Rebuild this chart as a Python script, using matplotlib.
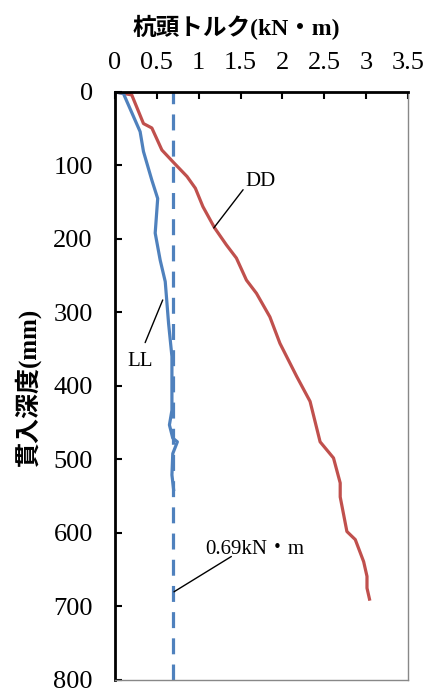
import matplotlib.pyplot as plt

# data
dd_torque = [0, 0.2, 0.34, 0.44, 0.56, 0.70, 0.86, 0.96, 1.05, 1.19, 1.33, 1.45, 1.57, 1.69, 1.85, 1.97,
             2.17, 2.33, 2.45, 2.61, 2.69, 2.69, 2.77, 2.87, 2.97, 3.01, 3.01, 3.04]
dd_depth = [0, 4, 43, 49, 79, 96, 115, 131, 156, 185, 208, 226, 256, 274, 306, 342,
            387, 421, 476, 498, 532, 551, 598, 609, 639, 659, 675, 690]

ll_torque = [0, 0.1, 0.30, 0.34, 0.44, 0.51, 0.48, 0.54, 0.60, 0.64, 0.68, 0.68, 0.68, 0.65,
             0.69, 0.745, 0.69, 0.68, 0.70]
ll_depth = [0, 2, 54, 81, 120, 145, 192, 229, 258, 315, 360, 396, 433, 453,
            471, 476, 492, 521, 541]

limit = 0.69
xticks = [0, 0.5, 1, 1.5, 2, 2.5, 3, 3.5]
xticklabels = ['0', '0.5', '1', '1.5', '2', '2.5', '3', '3.5']
yticks = [0, 100, 200, 300, 400, 500, 600, 700, 800]

serif = ['Liberation Serif', 'Noto Sans CJK JP']
mixed = ['Liberation Serif', 'Noto Sans CJK JP']

fig = plt.figure(figsize=(4.28, 6.93), dpi=100)
ax = fig.add_axes([0.2687, 0.0188, 0.6846, 0.8485])

ax.plot(dd_torque, dd_depth, color='#c0504d', lw=2.3, solid_joinstyle='round')
ax.plot(ll_torque, ll_depth, color='#4f81bd', lw=2.3, solid_joinstyle='round')
ax.axvline(limit, color='#4f81bd', lw=2.3, dashes=(5, 3.2))

ax.set_xlim(0, 3.5)
ax.set_ylim(800, 0)
ax.xaxis.tick_top()
ax.set_xticks(xticks)
ax.set_xticklabels(xticklabels, family=serif, fontsize=19)
ax.set_yticks(yticks)
ax.set_yticklabels([str(v) for v in yticks], family=serif, fontsize=19)
ax.tick_params(axis='both', direction='in', length=5, width=1.5)
ax.tick_params(axis='x', pad=13)
ax.tick_params(axis='y', pad=16)

for s in ['top', 'left']:
    ax.spines[s].set_linewidth(2)
    ax.spines[s].set_color('black')
for s in ['right', 'bottom']:
    ax.spines[s].set_linewidth(1)
    ax.spines[s].set_color('#888888')

fig.text(236 / 428, 1 - 27 / 693, '杭頭トルク(kN・m)', ha='center', va='center',
         family=mixed, fontsize=17, fontweight='bold')
fig.text(28 / 428, 1 - 387 / 693, '貫入深度(mm)', ha='center', va='center', rotation=90,
         family=mixed, fontsize=18, fontweight='bold')

arrow = dict(arrowstyle='-', color='black', lw=1.0, shrinkA=0, shrinkB=0)
ax.text(1.74, 122, 'DD', family=serif, fontsize=15, ha='center', va='center')
ax.annotate('', xy=(1.18, 185), xytext=(1.53, 133), arrowprops=arrow)
ax.text(0.30, 367, 'LL', family=serif, fontsize=15, ha='center', va='center')
ax.annotate('', xy=(0.57, 283), xytext=(0.36, 341), arrowprops=arrow)
ax.text(1.075, 623, '0.69kN・m', family=serif, fontsize=15, ha='left', va='center')
ax.annotate('', xy=(0.705, 680), xytext=(1.39, 632), arrowprops=arrow)

fig.savefig('out.png', dpi=100)
